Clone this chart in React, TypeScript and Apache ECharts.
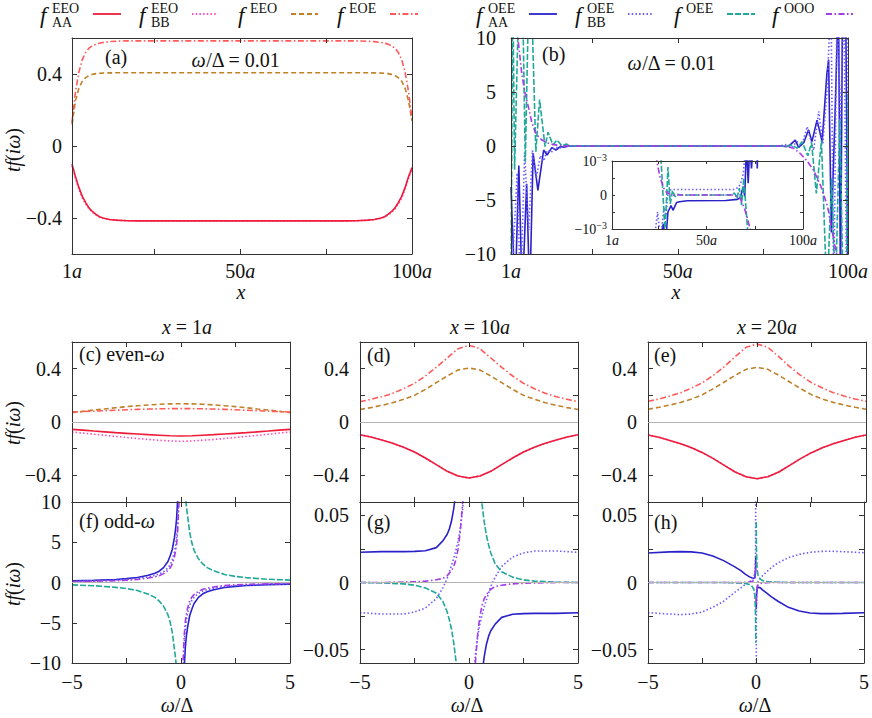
import React, { useEffect, useRef } from 'react';
import * as echarts from 'echarts';

const FONT = 'Liberation Serif, serif';
const FS = 20;
const AXC = '#333333';
const TXT = '#111111';

// ---------- colours ----------
const C_AA_EEO = '#ee1c3a';
const C_BB_EEO = '#ff4fb8';
const C_EEO = '#c0802a';
const C_EOE = '#ff5a5a';
const C_AA_OEE = '#2b21c9';
const C_BB_OEE = '#6b5cff';
const C_OEE = '#20a898';
const C_OOO = '#a43ce6';

// ---------- panel (a): omega/Delta = 0.01, vs site x ----------
const A_X = [1, 2, 3, 4, 5, 6, 7, 8, 9, 10, 12, 14, 17, 20, 30, 50, 70, 81, 84, 87, 89, 91, 92, 93, 94, 95, 96, 97, 98, 99, 100];
const A_AA_EEO = [-0.1, -0.17, -0.23, -0.28, -0.315, -0.345, -0.365, -0.38, -0.393, -0.4, -0.408, -0.412, -0.415, -0.416, -0.416, -0.416, -0.416, -0.416, -0.415, -0.412, -0.408, -0.4, -0.393, -0.38, -0.365, -0.345, -0.315, -0.28, -0.23, -0.17, -0.12];
const A_BB_EEO = [-0.11, -0.18, -0.24, -0.29, -0.323, -0.35, -0.37, -0.384, -0.395, -0.402, -0.409, -0.413, -0.415, -0.416, -0.416, -0.416, -0.416, -0.416, -0.415, -0.413, -0.409, -0.402, -0.395, -0.384, -0.37, -0.35, -0.323, -0.29, -0.24, -0.18, -0.13];
const A_EEO = [0.12, 0.25, 0.32, 0.36, 0.38, 0.392, 0.398, 0.402, 0.404, 0.405, 0.406, 0.407, 0.407, 0.407, 0.407, 0.407, 0.407, 0.407, 0.407, 0.407, 0.406, 0.405, 0.404, 0.402, 0.398, 0.392, 0.38, 0.36, 0.32, 0.25, 0.14];
const A_EOE = [0.13, 0.3, 0.41, 0.48, 0.52, 0.545, 0.557, 0.566, 0.571, 0.575, 0.58, 0.582, 0.584, 0.584, 0.584, 0.584, 0.584, 0.584, 0.584, 0.582, 0.58, 0.575, 0.571, 0.566, 0.557, 0.545, 0.52, 0.48, 0.41, 0.3, 0.15];

// ---------- panel (b): odd-omega amplitudes vs site x ----------
const B_AA_X = [1, 2.2, 3.3, 4.3, 5.6, 6.5, 7.5, 8.9, 10.6, 11.6, 13, 14.2, 15.5, 16.5, 18, 50, 80, 82, 83, 84.5, 85.5, 87, 88.4, 89.4, 90.9, 92.4, 93.8, 94.3, 95.1, 96.2, 97.2, 97.8, 98.4, 99.3, 100];
const B_AA_Y = [-3.8, -14, -1.8, -14, -3.5, -14, -0.68, -4.1, -0.37, -0.83, -0.15, -0.37, -0.05, -0.12, 0, 0, 0, -0.05, 0.1, 0.55, -0.12, 0.3, 1.5, 0.4, 2.4, 0.4, 6.7, 8.0, -8, 3, 14, -14, 14, 14, -14];
const B_BB_X = [1, 2.8, 3.8, 5.0, 6.2, 7.3, 8.4, 9.6, 10.6, 11.6, 12.8, 14, 15.2, 17, 50, 80, 82, 83.5, 85, 86.5, 88, 89.9, 91.4, 92.6, 93.8, 95, 95.8, 96.8, 97.8, 98.8, 99.6, 100];
const B_BB_Y = [-14, -2.5, -14, -0.6, -7.8, -0.4, -3.0, -0.9, -1.4, -0.4, -0.6, -0.1, -0.2, 0, 0, 0, 0.15, -0.1, 0.4, 0.1, 1.8, -0.4, 3.2, 0.2, 4.9, 14, -14, 14, 2, 14, -14, 14];
const B_OEE_X = [1, 1.5, 2.05, 3.3, 4.4, 5.2, 6.2, 7.0, 8.3, 9.4, 11, 11.9, 13.3, 14.5, 16, 17.2, 18.5, 20, 50, 80, 82, 83.5, 85, 86.5, 88.2, 89.3, 90.7, 92.2, 93.8, 95.2, 96.3, 97.6, 98.6, 99.5, 100];
const B_OEE_Y = [-14, 16, -2.2, 14, 14, -1.45, 14, 14, -0.53, 4.3, -0.06, 1.27, 0.1, 0.55, 0, 0.18, 0, 0.02, 0, 0, -0.05, 0.1, -0.2, 0.4, -0.9, 0.3, -4.4, 0.5, -14, -3, -14, 2.5, -14, -14, 5];
const B_OOO_X = [1, 2, 3.2, 4.2, 5.2, 6.2, 7.1, 8.1, 9.1, 10.1, 12, 14, 16, 18, 50, 80, 82, 84, 86, 88, 90, 92, 94, 96, 97, 98, 100];
const B_OOO_Y = [20, 13, 9.5, 6.6, 4.8, 3.5, 2.2, 1.3, 0.85, 0.55, 0.25, 0.1, 0.03, 0, 0, 0, -0.05, -0.2, -0.7, -1.4, -2.3, -3.7, -5.6, -9.0, -10.5, -13, -20];

// ---------- inset of (b), values in units of 1e-3 ----------
const I_AA_X = [23, 26, 27.6, 28.8, 30, 31.6, 32.6, 34.5, 36, 40, 60, 66, 67.5, 69, 69.8, 70.7, 71.6, 72.4, 73.3, 74.2, 76, 76.3, 76.6];
const I_AA_Y = [-1.5, -1.3, -0.85, -1.4, -0.5, -0.31, -0.45, -0.22, -0.2, -0.17, -0.16, -0.13, -0.08, 0.25, -0.05, 1.5, 0.35, 1.5, 0.78, 1.5, 1.5, 0.78, 1.5];
const I_BB_X = [23, 24.6, 26.2, 27.9, 29, 30.1, 32, 64, 66.4, 67.6, 69, 70];
const I_BB_Y = [-1.3, -0.5, -1.3, -0.36, -0.6, 0.13, 0.16, 0.16, 0.22, 0.32, 0.62, 1.2];
const I_OEE_X = [25, 28.5, 30, 31.2, 32.4, 33.7, 35, 37, 63, 64.5, 65.8, 67, 68.2, 69.3, 71.5];
const I_OEE_Y = [2.5, -1.1, 0.82, -0.26, 0.13, -0.05, 0.02, 0, 0, 0.06, -0.1, 0.2, -0.3, 0.5, -1.2];
const I_OOO_X = [22, 23, 24.3, 26, 28.3, 30, 32, 64, 66, 67.4, 69.5, 71, 72.6, 74];
const I_OOO_Y = [3, 1.6, 0.97, 0.5, 0.13, 0.05, 0, 0, -0.04, -0.1, -0.36, -0.65, -1.0, -1.4];

// ---------- even-omega panels (c), (d), (e) ----------
const E_W = [-5, -4.5, -4, -3.5, -3, -2.5, -2, -1.5, -1, -0.5, 0, 0.5, 1, 1.5, 2, 2.5, 3, 3.5, 4, 4.5, 5];
const C_AA_EEO_Y = [-0.055, -0.061, -0.068, -0.074, -0.08, -0.085, -0.09, -0.095, -0.099, -0.103, -0.105, -0.103, -0.099, -0.095, -0.09, -0.085, -0.08, -0.074, -0.068, -0.061, -0.055];
const C_BB_EEO_Y = [-0.075, -0.083, -0.092, -0.1, -0.108, -0.116, -0.124, -0.131, -0.137, -0.142, -0.145, -0.142, -0.137, -0.131, -0.124, -0.116, -0.108, -0.1, -0.092, -0.083, -0.075];
const C_EEO_Y = [0.07, 0.08, 0.09, 0.098, 0.107, 0.115, 0.122, 0.128, 0.133, 0.136, 0.137, 0.136, 0.133, 0.128, 0.122, 0.115, 0.107, 0.098, 0.09, 0.08, 0.07];
const C_EOE_Y = [0.075, 0.078, 0.081, 0.085, 0.088, 0.092, 0.095, 0.097, 0.099, 0.1, 0.1, 0.1, 0.099, 0.097, 0.095, 0.092, 0.088, 0.085, 0.081, 0.078, 0.075];

const D_AA_EEO_Y = [-0.096, -0.113, -0.135, -0.16, -0.19, -0.225, -0.27, -0.32, -0.37, -0.405, -0.42, -0.405, -0.37, -0.32, -0.27, -0.225, -0.19, -0.16, -0.135, -0.113, -0.096];
const D_BB_EEO_Y = [-0.096, -0.113, -0.135, -0.16, -0.19, -0.225, -0.27, -0.32, -0.37, -0.405, -0.42, -0.405, -0.37, -0.32, -0.27, -0.225, -0.19, -0.16, -0.135, -0.113, -0.096];
const D_EEO_Y = [0.094, 0.108, 0.125, 0.145, 0.17, 0.2, 0.245, 0.295, 0.345, 0.39, 0.405, 0.39, 0.345, 0.295, 0.245, 0.2, 0.17, 0.145, 0.125, 0.108, 0.094];
const D_EOE_Y = [0.152, 0.17, 0.19, 0.215, 0.25, 0.29, 0.345, 0.41, 0.48, 0.55, 0.575, 0.55, 0.48, 0.41, 0.345, 0.29, 0.25, 0.215, 0.19, 0.17, 0.152];

const E_AA_EEO_Y = [-0.097, -0.115, -0.138, -0.163, -0.193, -0.23, -0.275, -0.325, -0.375, -0.41, -0.425, -0.41, -0.375, -0.325, -0.275, -0.23, -0.193, -0.163, -0.138, -0.115, -0.097];
const E_BB_EEO_Y = [-0.097, -0.115, -0.138, -0.163, -0.193, -0.23, -0.275, -0.325, -0.375, -0.41, -0.425, -0.41, -0.375, -0.325, -0.275, -0.23, -0.193, -0.163, -0.138, -0.115, -0.097];
const E_EEO_Y = [0.096, 0.11, 0.127, 0.147, 0.172, 0.205, 0.25, 0.3, 0.35, 0.395, 0.41, 0.395, 0.35, 0.3, 0.25, 0.205, 0.172, 0.147, 0.127, 0.11, 0.096];
const E_EOE_Y = [0.155, 0.172, 0.195, 0.22, 0.255, 0.295, 0.35, 0.415, 0.49, 0.56, 0.585, 0.56, 0.49, 0.415, 0.35, 0.295, 0.255, 0.22, 0.195, 0.172, 0.155];

// ---------- odd-omega panel (f), x = 1a ----------
const F_W = [-5, -4, -3, -2.5, -2, -1.5, -1.2, -1, -0.8, -0.6, -0.5, -0.4, -0.3, -0.25, -0.2, -0.15, -0.1, -0.05, 0, 0.05, 0.1, 0.15, 0.2, 0.25, 0.3, 0.4, 0.5, 0.6, 0.8, 1, 1.2, 1.5, 2, 2.5, 3, 4, 5];
const F_AA_OEE = [0.2, 0.27, 0.38, 0.48, 0.62, 0.9, 1.15, 1.4, 1.85, 2.6, 3.3, 4.1, 5.6, 6.6, 8.0, 10.5, 15, 30, null, -30, -15, -10.5, -8.0, -6.6, -5.6, -4.1, -3.3, -2.6, -1.85, -1.4, -1.15, -0.9, -0.62, -0.48, -0.38, -0.27, -0.2];
const F_BB_OEE = [0.15, 0.2, 0.3, 0.37, 0.5, 0.7, 0.88, 1.05, 1.35, 1.8, 2.2, 2.8, 3.8, 4.6, 5.6, 7.5, 11, 22, null, -22, -11, -7.5, -5.6, -4.6, -3.8, -2.8, -2.2, -1.8, -1.35, -1.05, -0.88, -0.7, -0.5, -0.37, -0.3, -0.2, -0.15];
const F_OEE = [-0.3, -0.4, -0.6, -0.75, -1.0, -1.45, -1.85, -2.3, -2.95, -4.0, -4.9, -6.2, -8.3, -9.4, -10.8, -14, -20, -40, null, 40, 20, 14, 10.8, 9.4, 8.3, 6.2, 4.9, 4.0, 2.95, 2.3, 1.85, 1.45, 1.0, 0.75, 0.6, 0.4, 0.3];
const F_OOO = [0.12, 0.16, 0.22, 0.28, 0.38, 0.55, 0.7, 0.85, 1.1, 1.5, 1.8, 2.3, 3.2, 3.9, 4.8, 6.5, 9.5, 19, null, -19, -9.5, -6.5, -4.8, -3.9, -3.2, -2.3, -1.8, -1.5, -1.1, -0.85, -0.7, -0.55, -0.38, -0.28, -0.22, -0.16, -0.12];

// ---------- odd-omega panel (g), x = 10a ----------
const G_W = [-5, -4, -3, -2.5, -2, -1.5, -1.2, -1, -0.9, -0.8, -0.7, -0.6, -0.5, -0.4, -0.3, -0.2, -0.1, 0, 0.1, 0.2, 0.3, 0.4, 0.5, 0.6, 0.7, 0.8, 0.9, 1, 1.2, 1.5, 2, 2.5, 3, 4, 5];
const G_AA_OEE = [0.0225, 0.023, 0.023, 0.0232, 0.0237, 0.026, 0.031, 0.036, 0.04, 0.046, 0.055, 0.068, 0.09, 0.12, 0.17, 0.3, 0.6, null, -0.6, -0.3, -0.17, -0.12, -0.09, -0.068, -0.055, -0.046, -0.04, -0.036, -0.031, -0.026, -0.0237, -0.0232, -0.023, -0.023, -0.0225];
const G_BB_OEE = [-0.0225, -0.0235, -0.0235, -0.022, -0.019, -0.012, -0.004, 0.003, 0.008, 0.013, 0.018, 0.024, 0.031, 0.04, 0.053, 0.075, 0.15, null, -0.15, -0.075, -0.053, -0.04, -0.031, -0.024, -0.018, -0.013, -0.008, -0.003, 0.004, 0.012, 0.019, 0.022, 0.0235, 0.0235, 0.0225];
const G_OEE = [0, -0.0003, -0.001, -0.002, -0.004, -0.008, -0.014, -0.022, -0.028, -0.035, -0.045, -0.058, -0.075, -0.1, -0.15, -0.25, -0.5, null, 0.5, 0.25, 0.15, 0.1, 0.075, 0.058, 0.045, 0.035, 0.028, 0.022, 0.014, 0.008, 0.004, 0.002, 0.001, 0.0003, 0];
const G_OOO = [0, 0, 0.0003, 0.0006, 0.001, 0.002, 0.003, 0.005, 0.007, 0.009, 0.012, 0.017, 0.025, 0.038, 0.058, 0.09, 0.2, null, -0.2, -0.09, -0.058, -0.038, -0.025, -0.017, -0.012, -0.009, -0.007, -0.005, -0.003, -0.002, -0.001, -0.0006, -0.0003, 0, 0];

// ---------- odd-omega panel (h), x = 20a ----------
const H_W = [-5, -4, -3.5, -3, -2.5, -2, -1.5, -1, -0.7, -0.5, -0.3, -0.2, -0.1, -0.05, -0.02, -0.01, 0, 0.01, 0.02, 0.05, 0.1, 0.2, 0.3, 0.5, 0.7, 1, 1.5, 2, 2.5, 3, 3.5, 4, 5];
const H_AA_OEE = [0.022, 0.0228, 0.023, 0.0228, 0.022, 0.0198, 0.0163, 0.0118, 0.0088, 0.0062, 0.0042, 0.0035, 0.003, 0.004, 0.01, 0.02, null, -0.02, -0.01, -0.005, -0.0035, -0.004, -0.0055, -0.008, -0.0105, -0.0138, -0.0185, -0.0213, -0.0227, -0.0232, -0.0232, -0.023, -0.0225];
const H_BB_OEE = [-0.0225, -0.0235, -0.024, -0.0235, -0.022, -0.0185, -0.014, -0.0075, -0.004, -0.0015, 0.0005, 0.002, 0.004, 0.008, 0.02, 0.08, null, -0.08, -0.02, -0.005, 0.001, 0.003, 0.005, 0.008, 0.011, 0.0145, 0.0185, 0.021, 0.0225, 0.0232, 0.0233, 0.023, 0.0222];
const H_OEE = [0, 0, 0, 0, 0, 0, 0, -0.0002, -0.0004, -0.0008, -0.0015, -0.0025, -0.005, -0.01, -0.025, -0.045, null, 0.045, 0.025, 0.01, 0.005, 0.0025, 0.0015, 0.0008, 0.0004, 0.0002, 0, 0, 0, 0, 0, 0, 0];
const H_OOO = [0, 0, 0, 0, 0, 0, 0, 0, 0, 0.0002, 0.0005, 0.0008, 0.0015, 0.003, 0.007, 0.015, null, -0.015, -0.007, -0.003, -0.0015, -0.0008, -0.0005, -0.0002, 0, 0, 0, 0, 0, 0, 0, 0, 0];

// ---------- ticks ----------
const SITE_TICKS = [1, 25, 50, 75, 100];
const SITE_LABELS = [1, 50, 100];
const W_TICKS = [-5, -2.5, 0, 2.5, 5];
const W_LABELS = [-5, 0, 5];
const A_YTICKS = [-0.4, 0, 0.4];
const EVEN_YTICKS = [-0.4, -0.2, 0, 0.2, 0.4];
const EVEN_YLABELS = [-0.4, 0, 0.4];
const BIG_YTICKS = [-10, -5, 0, 5, 10];
const SMALL_YTICKS = [-0.05, -0.025, 0, 0.025, 0.05];
const SMALL_YLABELS = [-0.05, 0, 0.05];
const INSET_YTICKS = [-1, -0.5, 0, 0.5, 1];
const INSET_YLABELS = [-1, 0, 1];

// ---------- styles ----------
const DOT = [1.5, 2.2];
const DASH = [5, 3];
const DASHDOT = [6, 2.5, 1.5, 2.5];
const TEALDASH = [6, 2];

const LEGEND = [
  { x0: 37, sub: 'AA', sup: 'EEO', l1: 93, l2: 121, color: C_AA_EEO, dash: 'solid' },
  { x0: 136, sub: 'BB', sup: 'EEO', l1: 192, l2: 218, color: C_BB_EEO, dash: DOT },
  { x0: 235, sub: '', sup: 'EEO', l1: 291, l2: 318, color: C_EEO, dash: DASH },
  { x0: 334, sub: '', sup: 'EOE', l1: 390, l2: 418, color: C_EOE, dash: DASHDOT },
  { x0: 473, sub: 'AA', sup: 'OEE', l1: 529, l2: 557, color: C_AA_OEE, dash: 'solid' },
  { x0: 572, sub: 'BB', sup: 'OEE', l1: 628, l2: 654, color: C_BB_OEE, dash: DOT },
  { x0: 671, sub: '', sup: 'OEE', l1: 727, l2: 755, color: C_OEE, dash: TEALDASH },
  { x0: 769, sub: '', sup: 'OOO', l1: 826, l2: 853, color: C_OOO, dash: DASHDOT },
];

const numFmt = (v: number) => (v === 0 ? '0' : (v < 0 ? '\u2212' : '') + String(Math.abs(v)));
const siteFmt = (v: number) => `{n|${v}}{i|a}`;
const sciFmt = (v: number) => (v === 0 ? '{b|0}' : v > 0 ? '{b|10}{s|\u22123}' : '{b|\u221210}{s|\u22123}');

function rich(fs: number) {
  return {
    n: { fontFamily: FONT, fontSize: fs, color: TXT },
    i: { fontFamily: FONT, fontSize: fs, color: TXT, fontStyle: 'italic' },
    b: { fontFamily: FONT, fontSize: fs, color: TXT, lineHeight: fs + 4 },
    s: { fontFamily: FONT, fontSize: Math.round(fs * 0.7), color: TXT, lineHeight: Math.round(fs * 0.7), verticalAlign: 'top' },
  };
}

function axis(gi: number, min: number, max: number, pos: string, ticks: number[], labels: number[] | null, fmt: any, fs: number, margin: number, tickLen: number) {
  return {
    type: 'value',
    gridIndex: gi,
    min,
    max,
    position: pos,
    axisLine: { show: true, onZero: false, lineStyle: { color: AXC, width: 1 } },
    axisTick: { show: true, inside: true, length: tickLen, customValues: ticks, lineStyle: { color: AXC, width: 1 } },
    axisLabel: labels
      ? { show: true, customValues: labels, formatter: fmt, margin, fontFamily: FONT, fontSize: fs, color: TXT, rich: rich(fs), showMinLabel: true, showMaxLabel: true, hideOverlap: false }
      : { show: false },
    splitLine: { show: false },
    z: 4,
  };
}

type Spec = {
  grid: { left: number; top: number; width: number; height: number };
  xr: [number, number]; xt: number[]; xl: number[] | null; xf: any;
  yr: [number, number]; yt: number[]; yl: number[] | null; yf: any;
  fs: number; xm: number; ym: number; tl: number;
};

const PANELS: Spec[] = [
  // (a)
  { grid: { left: 72, top: 38, width: 340, height: 216 }, xr: [1, 100], xt: SITE_TICKS, xl: SITE_LABELS, xf: siteFmt, yr: [-0.6, 0.6], yt: A_YTICKS, yl: A_YTICKS, yf: numFmt, fs: FS, xm: 7, ym: 10, tl: 5 },
  // (b)
  { grid: { left: 511, top: 38, width: 337, height: 216 }, xr: [1, 100], xt: SITE_TICKS, xl: SITE_LABELS, xf: siteFmt, yr: [-10, 10], yt: BIG_YTICKS, yl: BIG_YTICKS, yf: numFmt, fs: FS, xm: 7, ym: 15, tl: 5 },
  // inset
  { grid: { left: 612, top: 161, width: 191, height: 68 }, xr: [1, 100], xt: SITE_TICKS, xl: SITE_LABELS, xf: siteFmt, yr: [-1, 1], yt: INSET_YTICKS, yl: INSET_YLABELS, yf: sciFmt, fs: 14, xm: 4, ym: 5, tl: 3 },
  // (c)
  { grid: { left: 72, top: 342, width: 218, height: 160 }, xr: [-5, 5], xt: W_TICKS, xl: null, xf: numFmt, yr: [-0.6, 0.6], yt: EVEN_YTICKS, yl: EVEN_YLABELS, yf: numFmt, fs: FS, xm: 10, ym: 11, tl: 5 },
  // (d)
  { grid: { left: 360, top: 342, width: 218, height: 160 }, xr: [-5, 5], xt: W_TICKS, xl: null, xf: numFmt, yr: [-0.6, 0.6], yt: EVEN_YTICKS, yl: EVEN_YLABELS, yf: numFmt, fs: FS, xm: 10, ym: 11, tl: 5 },
  // (e)
  { grid: { left: 648, top: 342, width: 218, height: 160 }, xr: [-5, 5], xt: W_TICKS, xl: null, xf: numFmt, yr: [-0.6, 0.6], yt: EVEN_YTICKS, yl: EVEN_YLABELS, yf: numFmt, fs: FS, xm: 10, ym: 11, tl: 5 },
  // (f)
  { grid: { left: 72, top: 502, width: 218, height: 161 }, xr: [-5, 5], xt: W_TICKS, xl: W_LABELS, xf: numFmt, yr: [-10, 10], yt: BIG_YTICKS, yl: BIG_YTICKS, yf: numFmt, fs: FS, xm: 9, ym: 11, tl: 5 },
  // (g)
  { grid: { left: 360, top: 502, width: 218, height: 161 }, xr: [-5, 5], xt: W_TICKS, xl: W_LABELS, xf: numFmt, yr: [-0.06, 0.06], yt: SMALL_YTICKS, yl: SMALL_YLABELS, yf: numFmt, fs: FS, xm: 9, ym: 11, tl: 5 },
  // (h)
  { grid: { left: 648, top: 502, width: 218, height: 161 }, xr: [-5, 5], xt: W_TICKS, xl: W_LABELS, xf: numFmt, yr: [-0.06, 0.06], yt: SMALL_YTICKS, yl: SMALL_YLABELS, yf: numFmt, fs: FS, xm: 9, ym: 11, tl: 5 },
];

function ln(gi: number, xs: number[], ys: (number | null)[], color: string, dash: any, zeroLine = false) {
  const s: any = {
    type: 'line',
    xAxisIndex: gi * 2,
    yAxisIndex: gi * 2,
    data: xs.map((x, i) => [x, ys[i]]),
    symbol: 'none',
    showSymbol: false,
    silent: true,
    clip: true,
    connectNulls: false,
    lineStyle: { color, width: 1.6, type: dash },
    emphasis: { disabled: true },
    z: 3,
  };
  if (zeroLine) {
    s.markLine = {
      silent: true,
      symbol: ['none', 'none'],
      label: { show: false },
      lineStyle: { color: '#b4b4b4', width: 1, type: 'solid' },
      data: [{ yAxis: 0 }],
      animation: false,
    };
  }
  return s;
}

function txt(x: number, y: number, text: string, fs: number, align = 'center', rotation = 0) {
  return {
    type: 'text',
    x,
    y,
    rotation,
    silent: true,
    z: 100,
    style: {
      text,
      fontFamily: FONT,
      fontSize: fs,
      fill: TXT,
      align,
      verticalAlign: 'middle',
      textAlign: align,
      textVerticalAlign: 'middle',
      rich: {
        n: { fontFamily: FONT, fontSize: fs, fill: TXT },
        i: { fontFamily: FONT, fontSize: fs, fill: TXT, fontStyle: 'italic' },
      },
    },
  };
}

function plain(x: number, y: number, text: string, fs: number, italic = false) {
  return {
    type: 'text', x, y, silent: true, z: 100,
    style: { text, fontFamily: FONT, fontSize: fs, fontStyle: italic ? 'italic' : 'normal', fill: TXT, align: 'left', textAlign: 'left', verticalAlign: 'middle', textVerticalAlign: 'middle' },
  };
}

function buildOption() {
  const grid = PANELS.map((p) => ({ ...p.grid, containLabel: false, show: false }));
  const xAxis: any[] = [];
  const yAxis: any[] = [];
  PANELS.forEach((p, gi) => {
    xAxis.push(axis(gi, p.xr[0], p.xr[1], 'bottom', p.xt, p.xl, p.xf, p.fs, p.xm, p.tl));
    xAxis.push(axis(gi, p.xr[0], p.xr[1], 'top', p.xt, null, null, p.fs, p.xm, p.tl));
    yAxis.push(axis(gi, p.yr[0], p.yr[1], 'left', p.yt, p.yl, p.yf, p.fs, p.ym, p.tl));
    yAxis.push(axis(gi, p.yr[0], p.yr[1], 'right', p.yt, null, null, p.fs, p.ym, p.tl));
  });

  const series: any[] = [
    // (a)
    ln(0, A_X, A_BB_EEO, C_BB_EEO, DOT),
    ln(0, A_X, A_AA_EEO, C_AA_EEO, 'solid'),
    ln(0, A_X, A_EEO, C_EEO, DASH),
    ln(0, A_X, A_EOE, C_EOE, DASHDOT),
    // (b)
    ln(1, B_AA_X, B_AA_Y, C_AA_OEE, 'solid'),
    ln(1, B_BB_X, B_BB_Y, C_BB_OEE, DOT),
    ln(1, B_OEE_X, B_OEE_Y, C_OEE, TEALDASH),
    ln(1, B_OOO_X, B_OOO_Y, C_OOO, DASHDOT),
    // inset
    ln(2, I_AA_X, I_AA_Y, C_AA_OEE, 'solid'),
    ln(2, I_BB_X, I_BB_Y, C_BB_OEE, DOT),
    ln(2, I_OEE_X, I_OEE_Y, C_OEE, TEALDASH),
    ln(2, I_OOO_X, I_OOO_Y, C_OOO, DASHDOT),
    // (c)
    ln(3, E_W, C_BB_EEO_Y, C_BB_EEO, DOT, true),
    ln(3, E_W, C_AA_EEO_Y, C_AA_EEO, 'solid'),
    ln(3, E_W, C_EEO_Y, C_EEO, DASH),
    ln(3, E_W, C_EOE_Y, C_EOE, DASHDOT),
    // (d)
    ln(4, E_W, D_BB_EEO_Y, C_BB_EEO, DOT, true),
    ln(4, E_W, D_AA_EEO_Y, C_AA_EEO, 'solid'),
    ln(4, E_W, D_EEO_Y, C_EEO, DASH),
    ln(4, E_W, D_EOE_Y, C_EOE, DASHDOT),
    // (e)
    ln(5, E_W, E_BB_EEO_Y, C_BB_EEO, DOT, true),
    ln(5, E_W, E_AA_EEO_Y, C_AA_EEO, 'solid'),
    ln(5, E_W, E_EEO_Y, C_EEO, DASH),
    ln(5, E_W, E_EOE_Y, C_EOE, DASHDOT),
    // (f)
    ln(6, F_W, F_AA_OEE, C_AA_OEE, 'solid', true),
    ln(6, F_W, F_BB_OEE, C_BB_OEE, DOT),
    ln(6, F_W, F_OEE, C_OEE, TEALDASH),
    ln(6, F_W, F_OOO, C_OOO, DASHDOT),
    // (g)
    ln(7, G_W, G_AA_OEE, C_AA_OEE, 'solid', true),
    ln(7, G_W, G_BB_OEE, C_BB_OEE, DOT),
    ln(7, G_W, G_OEE, C_OEE, TEALDASH),
    ln(7, G_W, G_OOO, C_OOO, DASHDOT),
    // (h)
    ln(8, H_W, H_AA_OEE, C_AA_OEE, 'solid', true),
    ln(8, H_W, H_BB_OEE, C_BB_OEE, DOT),
    ln(8, H_W, H_OEE, C_OEE, TEALDASH),
    ln(8, H_W, H_OOO, C_OOO, DASHDOT),
  ];

  const graphic: any[] = [];
  LEGEND.forEach((l) => {
    graphic.push(plain(l.x0 + 3, 15, 'f', 23, true));
    graphic.push(plain(l.x0 + 15, 8, l.sup, 14));
    if (l.sub) graphic.push(plain(l.x0 + 15, 22, l.sub, 14));
    graphic.push({ type: 'line', silent: true, z: 100, shape: { x1: l.l1, y1: 14, x2: l.l2, y2: 14 }, style: { stroke: l.color, lineWidth: 1.8, lineDash: l.dash === 'solid' ? null : l.dash } });
  });

  const YL = '{i|tf}{n|(}{i|i\u03c9}{n|)}';
  graphic.push(txt(13, 150, YL, FS, 'center', Math.PI / 2));
  graphic.push(txt(13, 423, YL, FS, 'center', Math.PI / 2));
  graphic.push(txt(13, 584, YL, FS, 'center', Math.PI / 2));
  graphic.push(txt(241, 292, '{i|x}', FS));
  graphic.push(txt(676, 292, '{i|x}', FS));
  graphic.push(txt(177, 705, '{i|\u03c9}{n|/\u0394}', FS));
  graphic.push(txt(467, 705, '{i|\u03c9}{n|/\u0394}', FS));
  graphic.push(txt(755, 705, '{i|\u03c9}{n|/\u0394}', FS));
  graphic.push(txt(187, 327, '{i|x}{n| = 1}{i|a}', FS));
  graphic.push(txt(480, 327, '{i|x}{n| = 10}{i|a}', FS));
  graphic.push(txt(767, 327, '{i|x}{n| = 20}{i|a}', FS));
  graphic.push(txt(105, 57, '{n|(a)}', FS, 'left'));
  graphic.push(txt(236, 60, '{i|\u03c9}{n|/\u0394 = 0.01}', FS));
  graphic.push(txt(542, 54, '{n|(b)}', FS, 'left'));
  graphic.push(txt(672, 63, '{i|\u03c9}{n|/\u0394 = 0.01}', FS));
  graphic.push(txt(79, 354, '{n|(c) even-}{i|\u03c9}', FS, 'left'));
  graphic.push(txt(367, 355, '{n|(d)}', FS, 'left'));
  graphic.push(txt(654, 355, '{n|(e)}', FS, 'left'));
  graphic.push(txt(79, 521, '{n|(f) odd-}{i|\u03c9}', FS, 'left'));
  graphic.push(txt(367, 522, '{n|(g)}', FS, 'left'));
  graphic.push(txt(654, 522, '{n|(h)}', FS, 'left'));

  return {
    animation: false,
    backgroundColor: '#ffffff',
    grid,
    xAxis,
    yAxis,
    series,
    graphic,
  };
}

export default function App() {
  const ref = useRef<HTMLDivElement>(null);
  useEffect(() => {
    document.body.style.margin = '0';
    const chart = echarts.init(ref.current!, null, { renderer: 'svg' });
    chart.setOption(buildOption() as any);
    return () => chart.dispose();
  }, []);
  return <div ref={ref} style={{ width: 872, height: 718 }} />;
}
